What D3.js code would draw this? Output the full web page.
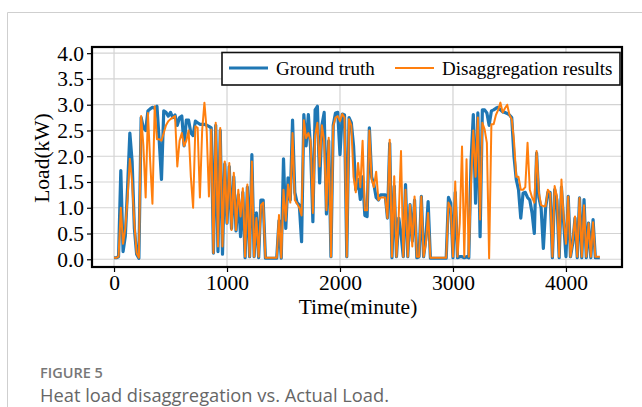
<!DOCTYPE html>
<html>
<head>
<meta charset="utf-8">
<script src="https://cdn.jsdelivr.net/npm/d3@7"></script>
<style>
  body { margin: 0; background: #fff; }
</style>
</head>
<body>
<script>
// sampling interval of both series, in minutes
const STEP = 20;

// Ground truth heat load (kW), one value every STEP minutes
const groundTruth = [
  0.03, 0.03, 0.05, 1.72, 0.15, 0.45, 1.4, 2.45, 1.9, 0.6,
  0.1, 0.02, 2.75, 2.55, 2.5, 2.88, 2.92, 2.95, 2.93, 2.97,
  2.3, 1.55, 2.88, 2.85, 2.78, 2.85, 2.75, 2.8, 2.6, 2.75,
  2.78, 2.2, 2.7, 2.7, 2.45, 2.4, 2.68, 2.65, 2.62, 2.62,
  2.62, 2.6, 2.58, 2.55, 0.12, 2.6, 0.15, 2.5, 0.1, 1.85,
  0.7, 1.8, 0.6, 1.6, 0.55, 1.25, 0.44, 1.3, 0.03, 1.4,
  0.05, 2.03, 0.05, 0.9, 0.03, 1.15, 1.15, 0.02, 0.02, 0.02,
  0.02, 0.02, 0.02, 0.75, 0.02, 1.95, 0.6, 1.58, 1.15, 2.7,
  1.3, 1.1, 1.05, 0.34, 2.81, 2.2, 2.81, 2.15, 0.73, 2.9,
  2.97, 1.48, 2.6, 2.85, 0.88, 2.3, 0.05, 2.6, 2.84, 2.85,
  2.03, 2.82, 2.8, 0.05, 2.75, 2.65, 2.2, 1.35, 1.55, 1.16,
  1.6, 0.85, 0.83, 2.55, 1.6, 1.45, 1.2, 1.15, 1.25, 1.25,
  1.25, 0.8, 2.25, 0.03, 1.42, 0.05, 0.8, 0.5, 0.05, 1.45,
  0.05, 1.06, 0.35, 1.15, 0.03, 0.05, 1.22, 0.05, 0.4, 1.12,
  0.02, 0.02, 0.02, 0.02, 0.02, 0.02, 0.02, 0.02, 1.2, 1.09,
  0.03, 1.3, 0.03, 0.05, 0.05, 0.03, 0.05, 0.03, 1.9, 2.81,
  1.09, 2.84, 0.44, 2.9, 2.9, 2.84, 2.6, 2.88, 2.9, 2.93,
  2.95, 2.9, 2.86, 2.85, 2.83, 2.8, 2.75, 2.0, 1.55, 1.35,
  0.8, 1.28, 1.3, 1.2, 1.15, 0.9, 0.5, 2.06, 1.2, 1.0,
  0.21, 1.0, 1.3, 1.3, 0.03, 1.35, 1.15, 0.03, 1.4, 0.7,
  0.05, 1.22, 0.05, 0.31, 0.8, 0.03, 1.19, 0.03, 1.16, 0.03,
  0.7, 0.03, 0.77, 0.03, 0.03, 0.03
];

// Disaggregation results (kW), same time steps
const disaggregated = [
  0.03, 0.03, 0.05, 1.0, 0.3, 0.6, 1.2, 1.95, 1.5, 0.7,
  0.12, 0.03, 2.78, 2.2, 1.2, 2.84, 1.9, 1.08, 2.97, 2.33,
  2.33, 2.3, 2.45, 2.6, 2.68, 2.72, 2.75, 2.78, 1.8, 2.3,
  2.45, 2.2, 2.3, 2.5, 1.6, 1.0, 2.58, 2.55, 1.2, 2.5,
  3.04, 2.5, 1.22, 2.52, 0.12, 2.65, 0.25, 2.55, 0.25, 1.9,
  0.7, 1.87, 0.57, 1.68, 0.57, 1.35, 0.83, 1.38, 0.05, 1.45,
  0.05, 1.9, 0.05, 0.8, 0.05, 1.05, 1.1, 0.03, 0.03, 0.03,
  0.03, 0.03, 0.03, 0.86, 0.03, 1.35, 0.75, 1.45, 1.1, 2.45,
  1.15, 1.08, 1.0, 0.85, 2.7, 2.35, 2.45, 2.3, 0.9, 2.4,
  2.65, 1.8, 2.6, 2.3, 0.95, 2.36, 0.05, 2.58, 2.75, 2.78,
  2.68, 2.82, 2.75, 0.05, 2.72, 2.6, 1.6, 1.3, 1.87, 1.4,
  2.3, 0.95, 0.95, 2.5, 1.55, 1.4, 1.7, 1.15, 1.2, 1.2,
  1.2, 0.8, 2.32, 0.05, 1.61, 0.05, 0.85, 2.1, 0.05, 1.35,
  0.05, 1.06, 0.25, 1.22, 0.05, 0.05, 1.22, 0.05, 0.3, 0.9,
  0.03, 0.03, 0.03, 0.03, 0.03, 0.03, 0.03, 0.03, 1.1, 1.0,
  0.05, 1.51, 0.05, 0.7, 2.19, 0.05, 1.94, 0.05, 1.5, 2.5,
  1.6, 2.75, 0.77, 2.65, 2.52, 2.26, 0.02, 2.62, 2.62, 2.8,
  2.9, 3.04, 2.85, 2.93, 3.0, 2.8, 2.72, 2.3, 1.6, 1.6,
  1.35, 1.35, 1.4, 2.26, 1.35, 1.2, 1.1, 2.1, 1.3, 1.05,
  1.03, 1.03, 1.35, 1.28, 0.05, 1.42, 1.22, 0.05, 1.55, 0.78,
  0.3, 1.22, 0.05, 0.35, 0.83, 0.05, 1.19, 0.05, 1.05, 0.05,
  0.7, 0.05, 0.72, 0.05, 0.05, 0.05
];

const xTicks = [0, 1000, 2000, 3000, 4000];
const yTicks = [0, 0.5, 1.0, 1.5, 2.0, 2.5, 3.0, 3.5, 4.0];
const seriesNames = ["Ground truth", "Disaggregation results"];
const seriesColors = ["#1f77b4", "#ff7f0e"];

const W = 642, H = 407;
const box = { left: 92, right: 622, top: 47, bottom: 267 };
const serif = "'Liberation Serif', 'Times New Roman', serif";

const svg = d3.select("body").append("svg")
  .attr("width", W)
  .attr("height", H)
  .style("background", "#fff");

// light page frame of the figure panel
svg.append("path")
  .attr("d", `M7.5,${H} V12.5 H${W}`)
  .attr("fill", "none")
  .attr("stroke", "#cfcfcf")
  .attr("stroke-width", 1);

const x = d3.scaleLinear().domain([-195, 4496]).range([box.left, box.right]);
const y = d3.scaleLinear().domain([-0.15, 4.12]).range([box.bottom, box.top]);

// grid
const grid = svg.append("g").attr("stroke", "#d3d3d3").attr("stroke-width", 1.2);
grid.selectAll("line.gx").data(xTicks).enter().append("line")
  .attr("x1", d => x(d)).attr("x2", d => x(d))
  .attr("y1", box.top).attr("y2", box.bottom);
grid.selectAll("line.gy").data(yTicks).enter().append("line")
  .attr("x1", box.left).attr("x2", box.right)
  .attr("y1", d => y(d)).attr("y2", d => y(d));

// axes
const xAxis = svg.append("g")
  .attr("transform", `translate(0,${box.bottom})`)
  .call(d3.axisBottom(x).tickValues(xTicks).tickFormat(d3.format("d")).tickSize(5).tickPadding(3));
const yAxis = svg.append("g")
  .attr("transform", `translate(${box.left},0)`)
  .call(d3.axisLeft(y).tickValues(yTicks).tickFormat(d3.format(".1f")).tickSize(5).tickPadding(3));

[xAxis, yAxis].forEach(a => {
  a.select(".domain").remove();
  a.selectAll("line").attr("stroke", "#000").attr("stroke-width", 1.2);
  a.selectAll("text")
    .attr("fill", "#000")
    .style("font-family", serif)
    .style("font-size", "21.5px");
});

// clip for the data lines
svg.append("clipPath").attr("id", "plotClip")
  .append("rect")
  .attr("x", box.left).attr("y", box.top)
  .attr("width", box.right - box.left).attr("height", box.bottom - box.top);

const line = d3.line()
  .x((d, i) => x(i * STEP))
  .y(d => y(d));

const lines = svg.append("g").attr("clip-path", "url(#plotClip)");
[groundTruth, disaggregated].forEach((series, k) => {
  lines.append("path")
    .datum(series)
    .attr("d", line)
    .attr("fill", "none")
    .attr("stroke", seriesColors[k])
    .attr("stroke-width", k === 0 ? 3.2 : 2)
    .attr("stroke-linejoin", "round");
});

// plot frame
svg.append("rect")
  .attr("x", box.left).attr("y", box.top)
  .attr("width", box.right - box.left).attr("height", box.bottom - box.top)
  .attr("fill", "none")
  .attr("stroke", "#000")
  .attr("stroke-width", 2.2);

// axis titles
svg.append("text")
  .attr("x", (x(0) + x(4000)) / 2 + 18)
  .attr("y", 314)
  .attr("text-anchor", "middle")
  .style("font-family", serif)
  .style("font-size", "21.5px")
  .text("Time(minute)");

svg.append("text")
  .attr("transform", `translate(49,${(box.top + box.bottom) / 2 + 1}) rotate(-90)`)
  .attr("text-anchor", "middle")
  .style("font-family", serif)
  .style("font-size", "21.5px")
  .text("Load(kW)");

// legend
const legend = svg.append("g");
legend.append("rect")
  .attr("x", 222).attr("y", 52.5)
  .attr("width", 398).attr("height", 32.5)
  .attr("fill", "#fff")
  .attr("stroke", "#111")
  .attr("stroke-width", 1.6);

const legendX = [229, 395];
seriesNames.forEach((name, k) => {
  legend.append("line")
    .attr("x1", legendX[k]).attr("x2", legendX[k] + 39)
    .attr("y1", 68).attr("y2", 68)
    .attr("stroke", seriesColors[k])
    .attr("stroke-width", k === 0 ? 3.2 : 2);
  legend.append("text")
    .attr("x", legendX[k] + 47)
    .attr("y", 74.5)
    .style("font-family", serif)
    .style("font-size", "19px")
    .text(name);
});

// caption
svg.append("text")
  .attr("x", 40).attr("y", 378)
  .attr("fill", "#777")
  .style("font-family", "'Open Sans', sans-serif")
  .style("font-size", "14.5px")
  .style("font-weight", 600)
  .text("FIGURE 5");

svg.append("text")
  .attr("x", 40).attr("y", 401.5)
  .attr("fill", "#666")
  .style("font-family", "'Open Sans', sans-serif")
  .style("font-size", "18.3px")
  .text("Heat load disaggregation vs. Actual Load.");
</script>
</body>
</html>
